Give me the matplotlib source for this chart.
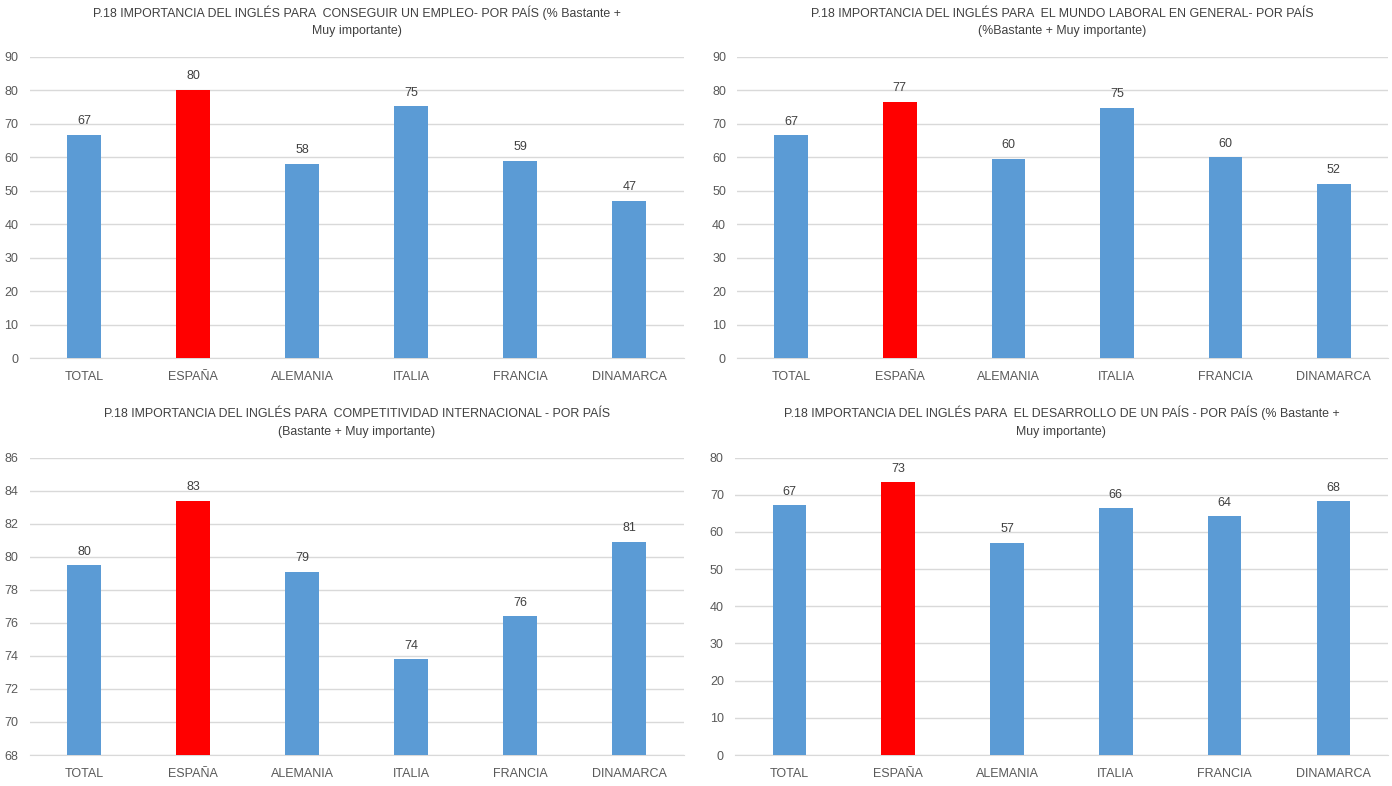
import matplotlib
matplotlib.use('Agg')
import matplotlib.pyplot as plt
import numpy as np

plt.rcParams['font.family'] = ['Liberation Sans', 'DejaVu Sans']

paises = ['TOTAL', 'ESPAÑA', 'ALEMANIA', 'ITALIA', 'FRANCIA', 'DINAMARCA']

empleo = [66.7, 80.2, 58.0, 75.2, 58.9, 47.0]
laboral = [66.6, 76.6, 59.6, 74.8, 60.0, 52.1]
competitividad = [79.5, 83.4, 79.1, 73.8, 76.4, 80.9]
desarrollo = [67.2, 73.4, 57.1, 66.4, 64.2, 68.3]

titulos = [
    'P.18 IMPORTANCIA DEL INGLÉS PARA  CONSEGUIR UN EMPLEO- POR PAÍS (% Bastante +\nMuy importante)',
    'P.18 IMPORTANCIA DEL INGLÉS PARA  EL MUNDO LABORAL EN GENERAL- POR PAÍS\n(%Bastante + Muy importante)',
    'P.18 IMPORTANCIA DEL INGLÉS PARA  COMPETITIVIDAD INTERNACIONAL - POR PAÍS\n(Bastante + Muy importante)',
    'P.18 IMPORTANCIA DEL INGLÉS PARA  EL DESARROLLO DE UN PAÍS - POR PAÍS (% Bastante +\nMuy importante)',
]
limites = [(0, 90, 10), (0, 90, 10), (68, 86, 2), (0, 80, 10)]
posiciones = [
    [0.0212, 0.5445, 0.470, 0.383],
    [0.5295, 0.5445, 0.4677, 0.383],
    [0.0212, 0.0394, 0.470, 0.3785],
    [0.528, 0.0394, 0.469, 0.3785],
]
datos = [empleo, laboral, competitividad, desarrollo]

azul = '#5b9bd5'
rojo = '#ff0000'
gris = '#595959'

fig = plt.figure(figsize=(13.92, 7.86), dpi=100)

for i in range(4):
    ax = fig.add_axes(posiciones[i])
    vals = datos[i]
    lo, hi, paso = limites[i]
    x = np.arange(len(paises))
    colores = [rojo if p == 'ESPAÑA' else azul for p in paises]
    ax.bar(x, [v - lo for v in vals], bottom=lo, width=0.31, color=colores, zorder=3)
    for xi, v in zip(x, vals):
        ax.text(xi, v + (hi - lo) * 0.025, '%d' % round(v), ha='center', va='bottom',
                fontsize=9, color='#404040')
    ax.set_xlim(-0.5, len(paises) - 0.5)
    ax.set_ylim(lo, hi)
    ax.set_yticks(np.arange(lo, hi + 0.1, paso))
    ax.set_xticks(x)
    ax.set_xticklabels(paises)
    ax.tick_params(axis='both', length=0, labelsize=9, colors=gris)
    ax.tick_params(axis='y', pad=8)
    ax.tick_params(axis='x', pad=9)
    ax.yaxis.grid(True, color='#d9d9d9', linewidth=1, zorder=0)
    for s in ['top', 'right', 'left']:
        ax.spines[s].set_visible(False)
    ax.spines['bottom'].set_color('#d9d9d9')
    ax.set_title(titulos[i], fontsize=8.9, color='#404040', pad=16.5, linespacing=1.6)

fig.savefig('out.png', dpi=100, facecolor='white')
